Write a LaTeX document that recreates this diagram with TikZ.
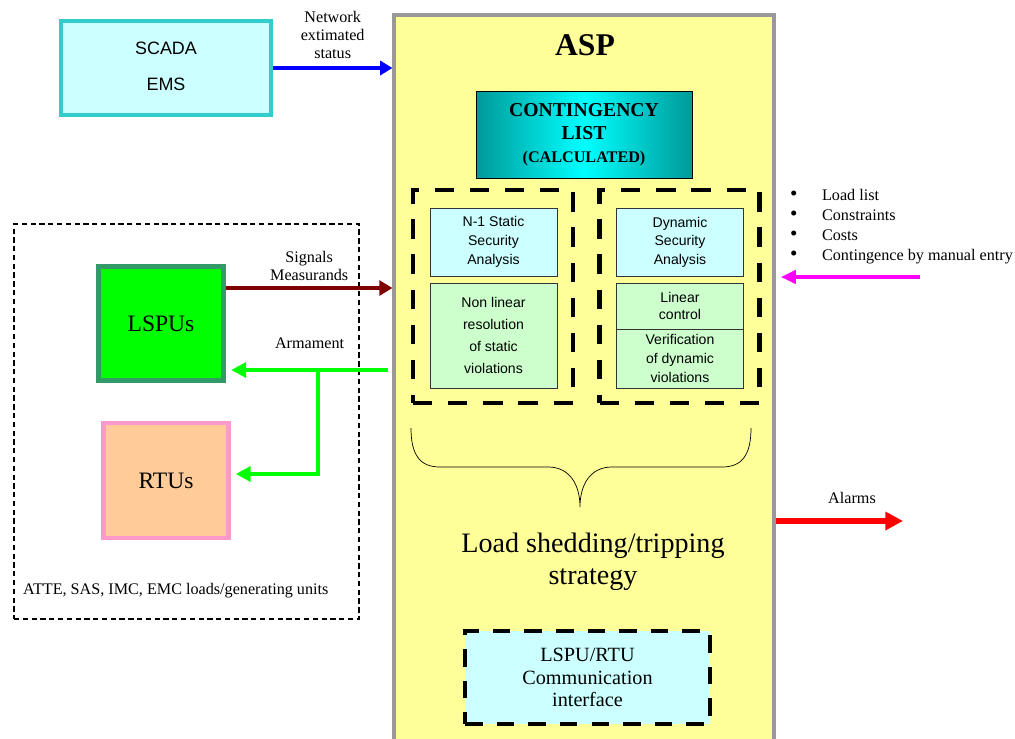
\documentclass[tikz,border=0pt]{standalone}
\usepackage{fontspec}
\setmainfont{Liberation Serif}
\setsansfont{Liberation Sans}
\usetikzlibrary{arrows.meta}
\definecolor{paleblue}{HTML}{CCFFFF}
\definecolor{palegreen}{HTML}{CCFFCC}
\definecolor{scadaline}{HTML}{33CCCC}
\definecolor{aspfill}{HTML}{FFFF99}
\definecolor{aspline}{HTML}{999999}
\definecolor{lspufill}{HTML}{00FF00}
\definecolor{lspuline}{HTML}{339966}
\definecolor{rtufill}{HTML}{FFCC99}
\definecolor{rtuline}{HTML}{FF99CC}
\definecolor{tealdark}{HTML}{009999}
\definecolor{sigred}{HTML}{800000}
\definecolor{manualpink}{HTML}{FF00FF}
\newcommand{\inputitem}[1]{\makebox[18.2pt][l]{\fontsize{12}{11.4}\selectfont\textbullet}#1}
\tikzstyle{note} = [inner sep=1pt, font=\fontsize{9.2}{10.2}\selectfont, align=center]
\tikzstyle{scadabox} = [rectangle, minimum width=4.2cm, minimum height=1.88cm, inner sep=0pt, draw=scadaline, line width=2.2pt, fill=paleblue, font=\sffamily\fontsize{10.2}{20.4}\selectfont, align=center]
\tikzstyle{aspbox} = [rectangle, minimum width=7.6cm, minimum height=14.6cm, draw=aspline, line width=1.8pt, fill=aspfill]
\tikzstyle{listbox} = [rectangle, minimum width=4.32cm, minimum height=1.74cm, inner sep=0pt, draw=black, thin, left color=tealdark, right color=tealdark, middle color=cyan, font=\bfseries\fontsize{11.2}{13}\selectfont, align=center]
\tikzstyle{dashgroup} = [rectangle, minimum width=3.2cm, minimum height=4.26cm, draw=black, line width=2.8pt, dash pattern=on 11pt off 9pt]
\tikzstyle{secbox} = [rectangle, minimum width=2.54cm, minimum height=1.36cm, inner sep=0pt, draw=black!80, thin, fill=paleblue, font=\sffamily\fontsize{8}{11}\selectfont, align=center]
\tikzstyle{solvebox} = [rectangle, minimum width=2.54cm, inner sep=0pt, draw=black!80, thin, fill=palegreen, font=\sffamily\fontsize{8}{11}\selectfont, align=center]
\tikzstyle{lspubox} = [rectangle, minimum width=2.5cm, minimum height=2.28cm, inner sep=0pt, draw=lspuline, line width=2.8pt, fill=lspufill, font=\fontsize{13.4}{15}\selectfont]
\tikzstyle{rtubox} = [rectangle, minimum width=2.5cm, minimum height=2.3cm, inner sep=0pt, draw=rtuline, line width=2.3pt, fill=rtufill, font=\fontsize{13.4}{15}\selectfont]
\tikzstyle{unitsbox} = [rectangle, minimum width=6.9cm, minimum height=7.9cm, draw=black, line width=0.9pt, dash pattern=on 3pt off 2pt]
\tikzstyle{commbox} = [rectangle, minimum width=4.9cm, minimum height=1.86cm, inner sep=0pt, draw=black, line width=2.4pt, dash pattern=on 10pt off 8pt, fill=paleblue, font=\fontsize{11.5}{13}\selectfont, align=center]
\tikzstyle{netarrow} = [draw=blue, line width=2.8pt, -{Triangle[length=7pt,width=8pt]}]
\tikzstyle{sigarrow} = [draw=sigred, line width=2.8pt, -{Triangle[length=7.5pt,width=8.5pt]}]
\tikzstyle{armarrow} = [draw=lspufill, line width=2.4pt, -{Triangle[length=8.5pt,width=8.5pt]}]
\tikzstyle{manualarrow} = [draw=manualpink, line width=2.3pt, -{Triangle[length=8.5pt,width=7.5pt]}]
\tikzstyle{alarmarrow} = [draw=red, line width=3.2pt, -{Triangle[length=10pt,width=10pt]}]

\begin{document}
\begin{tikzpicture}[x=0.02cm, y=-0.02cm]
	\useasboundingbox (0,0) rectangle (1015,738);

	% ASP block and its contents
	\node (asp) [aspbox] at (584,380) {};
	\node (asptitle) [font=\bfseries\fontsize{18}{20}\selectfont] at (585,45) {ASP};
	\node (clist) [listbox] at (584,134.5) {CONTINGENCY\\LIST\\{\fontsize{9.2}{12}\selectfont (CALCULATED)}};

	\node (staticgrp) [dashgroup] at (493,296.5) {};
	\node (dynamicgrp) [dashgroup] at (679.5,296.5) {};
	\node (staticsa) [secbox] at (493.5,242) {N-1 Static\\Security\\Analysis};
	\node (nonlinear) [solvebox, minimum height=2.1cm, font=\sffamily\fontsize{8}{12.5}\selectfont] at (493.5,335.5) {Non linear\\resolution\\of static\\violations};
	\node (dynamicsa) [secbox, font=\sffamily\fontsize{8}{10.5}\selectfont] at (680,242) {Dynamic\\Security\\Analysis};
	\node (linctrl) [solvebox, minimum height=0.92cm, font=\sffamily\fontsize{8}{9.7}\selectfont] at (680,306) {Linear\\control};
	\node (verif) [solvebox, minimum height=1.18cm, font=\sffamily\fontsize{8}{10.8}\selectfont] at (680,358.5) {Verification\\of dynamic\\violations};

	\draw [thin] (411,428) .. controls (411,455) and (420,467) .. (440,467) -- (548,467)
		.. controls (570,467) and (580,485) .. (580,507)
		.. controls (580,485) and (590,467) .. (612,467) -- (722,467)
		.. controls (742,467) and (751,455) .. (751,428);
	\node (strategy) [font=\fontsize{16}{18.2}\selectfont, align=center] at (593,562) {Load shedding/tripping\\strategy};
	\node (comm) [commbox] at (587.5,677.5) {LSPU/RTU\\Communication\\interface};

	% outside blocks
	\node (scada) [scadabox] at (166,68) {\raisebox{2.2pt}{SCADA}\\\raisebox{2.2pt}{EMS}};
	\node (units) [unitsbox] at (186.5,421.5) {};
	\node (unitsnote) [note, anchor=west] at (21,591) {ATTE, SAS, IMC, EMC loads/generating units};
	\node (lspu) [lspubox] at (161,323.5) {LSPUs};
	\node (rtu) [rtubox] at (166,480.5) {RTUs};
	\node (inputs) [note, anchor=west, align=left, font=\fontsize{9.2}{11.4}\selectfont] at (788,227)
		{\inputitem{Load list}\\\inputitem{Constraints}\\\inputitem{Costs}\\\inputitem{Contingence by manual entry}};

	\coordinate (armin) at (388,370);
	\coordinate (armsplit) at (318,370);
	\coordinate (manualin) at (920,277);
	\coordinate (alarmout) at (903,521);

	% connectors
	\draw [netarrow] (scada.east) -- node [note, above=3pt] {Network\\extimated\\status} (scada.east -| asp.west);
	\draw [sigarrow] ([yshift=20.2pt]lspu.east) -- node [note, above=2pt] {Signals\\Measurands} ([yshift=20.2pt]lspu.east -| asp.west);
	\draw [armarrow] (armin) -- node [note, above=10pt] {Armament} ([xshift=3pt]armin -| lspu.east);
	\draw [armarrow] (armsplit) |- ([xshift=3pt,yshift=3.7pt]rtu.east);
	\draw [manualarrow, shorten >=3pt] (manualin) -- (manualin -| asp.east);
	\draw [alarmarrow] (alarmout -| asp.east) -- node [note, above=7pt, pos=0.6] {Alarms} (alarmout);
\end{tikzpicture}
\end{document}
